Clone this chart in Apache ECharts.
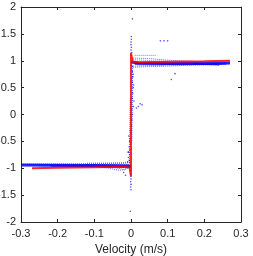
<!DOCTYPE html>
<html><head><meta charset="utf-8">
<script src="https://cdn.jsdelivr.net/npm/echarts@6/dist/echarts.min.js"></script>
<style>html,body{margin:0;padding:0;background:#fff}#c{width:253px;height:256px}</style>
</head><body><div id="c"></div>
<script>
// tick labels
const xTicks = [-0.3, -0.2, -0.1, 0, 0.1, 0.2, 0.3];
const yTicks = [-2, -1.5, -1, -0.5, 0, 0.5, 1, 1.5, 2];
// red model curve
const modelCurve = [[-0.27,-1.0],[-0.2,-0.99],[-0.1,-0.98],[-0.02,-0.97],[-0.004,-0.985],[0,-1.15],[0,1.15],[0.004,0.985],[0.02,0.97],[0.1,0.98],[0.2,0.99],[0.27,1.0]];
// measured traces (blue)
const negCore = [[-0.3,-0.94],[-0.2,-0.945],[-0.1,-0.95],[-0.05,-0.955],[-0.01,-0.96],[0,-0.965]];
const negCore2 = [[-0.22,-0.955],[-0.15,-0.96],[-0.08,-0.965],[-0.02,-0.97],[0,-0.975]];
const negUpper = [[-0.3,-0.925],[-0.2,-0.92],[-0.1,-0.915],[-0.03,-0.91],[0,-0.9]];
const negUpper2 = [[-0.12,-0.905],[-0.06,-0.9],[-0.02,-0.895],[0,-0.88]];
const negMid = [[-0.28,-0.935],[-0.18,-0.935],[-0.08,-0.93],[0,-0.93]];
const negLower = [[-0.25,-0.955],[-0.15,-0.965],[-0.08,-0.975],[-0.04,-0.995],[-0.02,-1.02],[-0.01,-1.0],[0,-0.98]];
const negLoop = [[-0.1,-0.965],[-0.06,-1.0],[-0.035,-1.035],[-0.015,-1.03],[-0.008,-0.97]];
const posCore = [[0,0.975],[0.02,0.96],[0.1,0.95],[0.2,0.95],[0.27,0.96]];
const posCore2 = [[0.01,0.94],[0.06,0.935],[0.12,0.935],[0.2,0.94],[0.26,0.945]];
const posTop = [[0.01,1.1],[0.07,1.1]];
const posUpper = [[0.005,1.05],[0.05,1.04],[0.1,1.01],[0.2,0.98]];
const posUpper2 = [[0.005,1.02],[0.06,1.0],[0.1,0.985]];
const posLower = [[0.005,0.88],[0.05,0.89],[0.1,0.9],[0.15,0.915],[0.25,0.93]];
const posLower2 = [[0.005,0.9],[0.04,0.91],[0.09,0.92]];
const posLoop = [[0.17,0.95],[0.2,0.93],[0.24,0.92],[0.245,0.94],[0.22,0.955]];
const nearZeroPos = [[0.004,0.9],[0.004,0.4],[0.002,-0.5]];
const nearZeroNeg = [[-0.004,-0.9],[-0.003,-0.3],[-0.002,0.3]];
const scatterPts = [[0.001,1.45],[0.001,1.4],[0,1.35],[0,1.3],[0.001,1.25],[0,1.2],[0.002,1.15],[0.001,1.1],[0.002,1.05],[0.003,0.9],[0.004,0.8],[0.005,0.7],[0.004,0.6],[0.006,0.5],[0.005,0.4],[0.003,0.3],[0.008,0.25],[0.006,0.15],[0.002,0.1],[0.004,0.0],[0.002,-0.1],[0.001,-0.2],[-0.002,-0.3],[0,-0.35],[-0.003,-0.45],[-0.004,-0.5],[-0.002,-0.55],[-0.005,-0.6],[-0.003,-0.65],[-0.006,-0.7],[-0.004,-0.75],[-0.007,-0.8],[-0.005,-0.85],[-0.009,-0.88],[-0.001,-1.05],[-0.001,-1.1],[0,-1.15],[0,-1.2],[-0.001,-1.25],[0,-1.3],[-0.001,-1.35],[0,-1.4],[-0.002,-1.8],[0.004,1.78],[0.02,0.15],[0.025,0.2],[0.03,0.18],[0.015,0.12],[0.08,1.37],[0.09,1.37],[0.1,1.37],[0.11,0.65],[0.12,0.76],[-0.02,-1.08],[-0.015,-1.13],[0.006,0.75],[0.007,0.55],[-0.006,-0.4],[-0.008,-0.7]];

const blue = '#0000ff';
function trace(data, w, type, op) {
  return {type:'line', data, showSymbol:false, symbol:'none', xAxisIndex:0, yAxisIndex:0,
    lineStyle:{color:blue, width:w, type:type, opacity:op}, silent:true, z:2};
}
const axisText = {color:'#262626', fontSize:11, fontFamily:'Liberation Sans, Arial, sans-serif'};
const chart = echarts.init(document.getElementById('c'), null, {renderer:'canvas'});
chart.setOption({
  animation:false,
  grid:{left:21, right:12, top:7, bottom:34, outerBoundsMode:'none', containLabel:false},
  xAxis:[
    {type:'value', min:-0.3, max:0.3, interval:0.1, position:'bottom',
     name:'Velocity (m/s)', nameLocation:'middle', nameGap:21,
     nameTextStyle:Object.assign({}, axisText, {fontSize:12}),
     axisLine:{onZero:false, lineStyle:{color:'#262626', width:1}},
     axisTick:{inside:true, length:3, lineStyle:{color:'#262626'}},
     axisLabel:Object.assign({margin:6, formatter:v=>String(Math.round(v*10)/10)}, axisText),
     splitLine:{show:false}},
    {type:'value', min:-0.3, max:0.3, interval:0.1, position:'top',
     axisLine:{onZero:false, lineStyle:{color:'#262626', width:1}},
     axisTick:{inside:true, length:3, lineStyle:{color:'#262626'}},
     axisLabel:{show:false}, splitLine:{show:false}}
  ],
  yAxis:[
    {type:'value', min:-2, max:2, interval:0.5, position:'left',
     axisLine:{show:true, onZero:false, lineStyle:{color:'#262626', width:1}},
     axisTick:{show:true, inside:true, length:3, lineStyle:{color:'#262626'}},
     axisLabel:Object.assign({margin:5}, axisText),
     splitLine:{show:false}},
    {type:'value', min:-2, max:2, interval:0.5, position:'right',
     axisLine:{show:true, onZero:false, lineStyle:{color:'#262626', width:1}},
     axisTick:{show:true, inside:true, length:3, lineStyle:{color:'#262626'}},
     axisLabel:{show:false}, splitLine:{show:false}}
  ],
  series:[
    trace(negUpper,1,'dotted',0.6),
    trace(negUpper2,1,'dotted',0.5),
    trace(negMid,1,'dotted',0.7),
    trace(negLower,1,'dotted',0.6),
    trace(negLoop,1,'dotted',0.6),
    trace(negCore2,2,'solid',0.6),
    trace(negCore,3,'solid',0.85),
    trace(posTop,1,'dotted',0.5),
    trace(posUpper,1,'dotted',0.6),
    trace(posUpper2,1,'dotted',0.5),
    trace(posLower,1,'dotted',0.6),
    trace(posLower2,1,'dotted',0.5),
    trace(posLoop,1,'solid',0.6),
    trace(posCore2,2,'solid',0.6),
    trace(posCore,3,'solid',0.85),
    trace(nearZeroPos,1,'dotted',0.7),
    trace(nearZeroNeg,1,'dotted',0.7),
    {type:'scatter', data:scatterPts, symbolSize:1.6, itemStyle:{color:blue, opacity:0.7}, silent:true, z:2},
    {type:'line', data:modelCurve, showSymbol:false, symbol:'none', lineStyle:{color:'#ff0000', width:2, opacity:0.85}, silent:true, z:3}
  ]
});
</script></body></html>
